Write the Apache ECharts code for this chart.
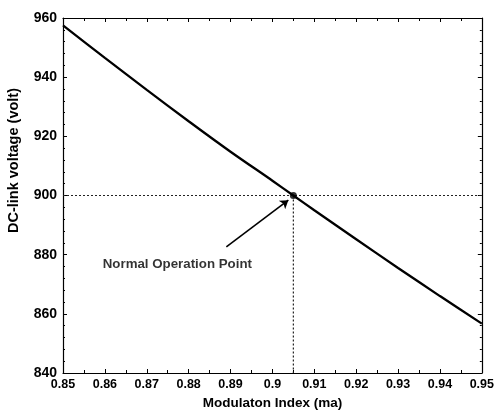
<!DOCTYPE html>
<html>
<head>
<meta charset="utf-8">
<script src="https://cdn.jsdelivr.net/npm/echarts@6/dist/echarts.min.js"></script>
<style>
  html, body { margin: 0; padding: 0; background: #fff; }
  #chart { width: 497px; height: 417px; }
</style>
</head>
<body>
<div id="chart"></div>
<script>
// Modulation index sweep and resulting DC-link voltage
const modIndex = [0.85, 0.86, 0.87, 0.88, 0.89, 0.90, 0.905, 0.91, 0.92, 0.93, 0.94, 0.95];
const dcVoltage = [957.5, 946.5, 935.7, 925.1, 914.8, 905.0, 900.0, 895.0, 885.2, 875.5, 866.0, 856.7];

// Operating point and its annotation
const opPoint = [0.905, 900];
const opLabel = 'Normal Operation Point';
const arrowFrom = [0.889, 882.6];
const arrowTo = [0.9038, 898.4];
const labelAt = [0.8773, 876.6];

const xTicks = { min: 0.85, max: 0.95, step: 0.01 };
const yTicks = { min: 840, max: 960, step: 20 };

const font = 'Liberation Sans, Arial, sans-serif';

const chart = echarts.init(document.getElementById('chart'));

function axisBase(show, size) {
  return {
    axisLine: { show: true, onZero: false, lineStyle: { color: '#000', width: 1.2 } },
    axisTick: { show: true, inside: true, length: 4, lineStyle: { color: '#000' } },
    splitLine: { show: false },
    axisLabel: {
      show: show, color: '#000', fontFamily: font, fontWeight: 'bold', fontSize: size || 12
    }
  };
}

const xBottom = Object.assign(axisBase(true, 12.5), {
  type: 'value', position: 'bottom',
  min: xTicks.min, max: xTicks.max, interval: xTicks.step,
  name: 'Modulaton Index (ma)', nameLocation: 'middle', nameGap: 23,
  nameTextStyle: { color: '#000', fontFamily: font, fontWeight: 'bold', fontSize: 13.5 },
  minorTick: { show: true, splitNumber: 2, length: 3, lineStyle: { color: '#000' } }
});
xBottom.axisLabel.margin = 5;
xBottom.axisLabel.formatter = v => String(+v.toFixed(2));

const xTop = Object.assign(axisBase(false), {
  type: 'value', position: 'top',
  min: xTicks.min, max: xTicks.max, interval: xTicks.step,
  minorTick: { show: true, splitNumber: 2, length: 3, lineStyle: { color: '#000' } }
});

const yLeft = Object.assign(axisBase(true, 14), {
  type: 'value', position: 'left',
  min: yTicks.min, max: yTicks.max, interval: yTicks.step,
  minorTick: { show: true, splitNumber: 5, length: 2, lineStyle: { color: '#000' } }
});
yLeft.axisLabel.margin = 6;

const yRight = Object.assign(axisBase(false), {
  type: 'value', position: 'right',
  min: yTicks.min, max: yTicks.max, interval: yTicks.step,
  minorTick: { show: true, splitNumber: 5, length: 2, lineStyle: { color: '#000' } }
});

chart.setOption({
  backgroundColor: '#fff',
  animation: false,
  grid: { left: 63, top: 18, right: 13, bottom: 44, containLabel: false },
  xAxis: [xBottom, xTop],
  yAxis: [yLeft, yRight],
  graphic: [{
    type: 'text',
    left: 6, top: 88,
    rotation: Math.PI / 2,
    style: {
      text: 'DC-link voltage (volt)',
      fill: '#000', font: 'bold 14.5px ' + font
    }
  }],
  series: [
    {
      // horizontal guide at the operating voltage
      type: 'line',
      data: [[xTicks.min, opPoint[1]], [xTicks.max, opPoint[1]]],
      symbol: 'none',
      lineStyle: { color: '#222', width: 1, type: [2, 2] },
      silent: true, z: 1
    },
    {
      // vertical guide at the operating modulation index
      type: 'line',
      data: [[opPoint[0], opPoint[1]], [opPoint[0], yTicks.min]],
      symbol: 'none',
      lineStyle: { color: '#222', width: 1.2, type: [2, 2] },
      silent: true, z: 1
    },
    {
      type: 'line',
      data: modIndex.map((m, i) => [m, dcVoltage[i]]),
      symbol: 'none',
      smooth: 0.3,
      lineStyle: { color: '#000', width: 2.3 },
      z: 3
    },
    {
      type: 'scatter',
      data: [opPoint],
      symbol: 'circle',
      symbolSize: 7,
      itemStyle: { color: '#000' },
      z: 4
    },
    {
      // annotation arrow
      type: 'lines',
      coordinateSystem: 'cartesian2d',
      data: [{ coords: [arrowFrom, arrowTo] }],
      symbol: ['none', 'arrow'],
      symbolSize: 8,
      lineStyle: { color: '#000', width: 1.6, opacity: 1 },
      z: 4
    },
    {
      type: 'scatter',
      data: [labelAt],
      symbolSize: 0,
      label: {
        show: true, position: 'inside',
        formatter: opLabel,
        color: '#000', fontFamily: font, fontWeight: 'bold', fontSize: 13.3
      },
      z: 4
    }
  ]
});
</script>
</body>
</html>
